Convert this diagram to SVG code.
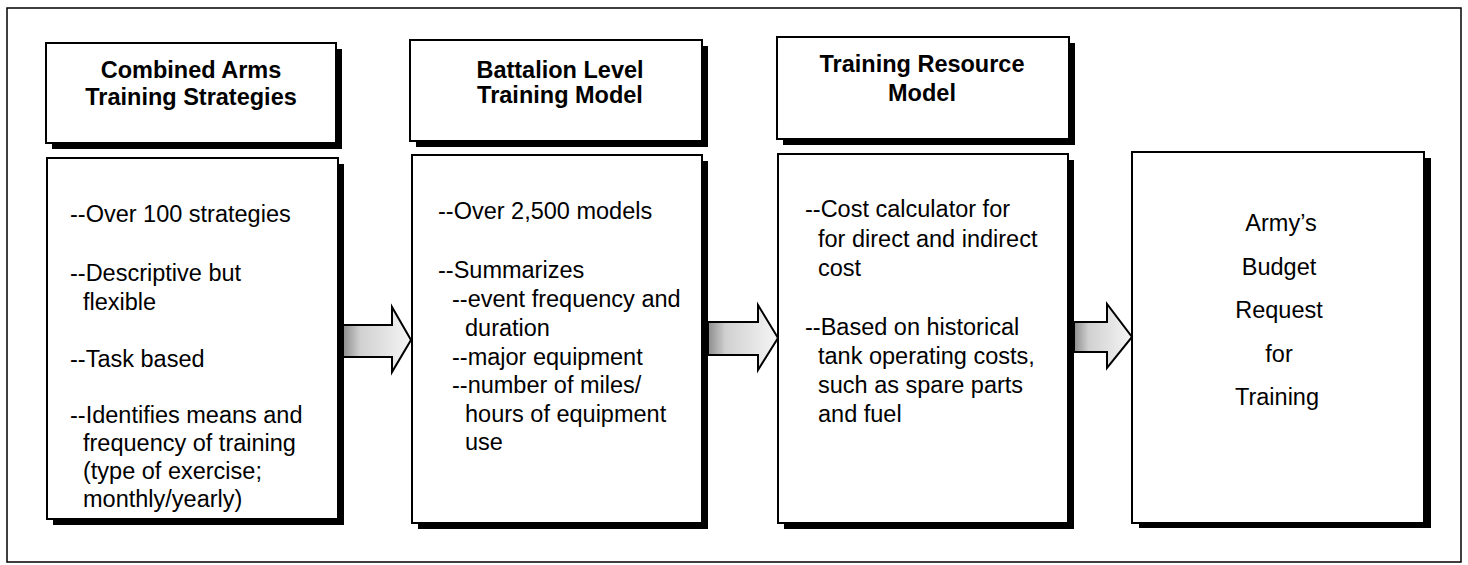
<svg xmlns="http://www.w3.org/2000/svg" width="1468" height="565" viewBox="0 0 1468 565">
<style>
.frame{fill:none;stroke:#000;stroke-width:1.5}
.box{fill:#fff;stroke:#000;stroke-width:2}
.shadow{fill:#000}
.title{font-family:"Liberation Sans",Arial,sans-serif;font-weight:bold;font-size:23.5px;fill:#000;text-anchor:middle}
.body{font-family:"Liberation Sans",Arial,sans-serif;font-size:23.5px;fill:#000}
.center{text-anchor:middle}
.arrow{fill:url(#shade);stroke:#000;stroke-width:2;stroke-linejoin:miter}
</style>
<defs>
<linearGradient id="shade" x1="0" y1="0" x2="1" y2="0">
<stop offset="0" stop-color="#8c8c8c"/>
<stop offset="0.25" stop-color="#d0d0d0"/>
<stop offset="1" stop-color="#f6f6f6"/>
</linearGradient>
</defs>
<rect width="1468" height="565" fill="#fff"/>
<rect class="frame" x="7" y="8" width="1454" height="554"/>

<g id="node-cats">
<rect class="shadow" x="52" y="49" width="290" height="100"/>
<rect class="box" x="46" y="43" width="290" height="100"/>
<text class="title" x="191" y="78">Combined Arms</text>
<text class="title" x="191" y="105">Training Strategies</text>
</g>
<g id="node-cats-body">
<rect class="shadow" x="53" y="164" width="291" height="361"/>
<rect class="box" x="47" y="158" width="291" height="361"/>
<text class="body" x="70" y="222">--Over 100 strategies</text>
<text class="body" x="70" y="281">--Descriptive but</text>
<text class="body" x="83" y="310">flexible</text>
<text class="body" x="70" y="367">--Task based</text>
<text class="body" x="70" y="423">--Identifies means and</text>
<text class="body" x="83" y="451">frequency of training</text>
<text class="body" x="83" y="479">(type of exercise;</text>
<text class="body" x="83" y="507">monthly/yearly)</text>
</g>

<g id="node-bltm">
<rect class="shadow" x="416" y="46" width="292" height="101"/>
<rect class="box" x="410" y="40" width="292" height="101"/>
<text class="title" x="560" y="78">Battalion Level</text>
<text class="title" x="560" y="103">Training Model</text>
</g>
<g id="node-bltm-body">
<rect class="shadow" x="418" y="161" width="290" height="368"/>
<rect class="box" x="412" y="155" width="290" height="368"/>
<text class="body" x="438" y="219">--Over 2,500 models</text>
<text class="body" x="438" y="278">--Summarizes</text>
<text class="body" x="452" y="307">--event frequency and</text>
<text class="body" x="465" y="336">duration</text>
<text class="body" x="452" y="365">--major equipment</text>
<text class="body" x="452" y="393">--number of miles/</text>
<text class="body" x="465" y="422">hours of equipment</text>
<text class="body" x="465" y="450">use</text>
</g>

<g id="node-trm">
<rect class="shadow" x="783" y="43" width="292" height="102"/>
<rect class="box" x="777" y="37" width="292" height="102"/>
<text class="title" x="922" y="72">Training Resource</text>
<text class="title" x="922" y="101">Model</text>
</g>
<g id="node-trm-body">
<rect class="shadow" x="784" y="160" width="290" height="369"/>
<rect class="box" x="778" y="154" width="290" height="369"/>
<text class="body" x="805" y="217">--Cost calculator for</text>
<text class="body" x="818" y="247">for direct and indirect</text>
<text class="body" x="818" y="276">cost</text>
<text class="body" x="805" y="335">--Based on historical</text>
<text class="body" x="818" y="364">tank operating costs,</text>
<text class="body" x="818" y="393">such as spare parts</text>
<text class="body" x="818" y="422">and fuel</text>
</g>

<g id="node-budget">
<rect class="shadow" x="1139" y="158" width="292" height="370"/>
<rect class="box" x="1132" y="152" width="292" height="371"/>
<text class="body center" x="1281" y="231">Army’s</text>
<text class="body center" x="1279" y="275">Budget</text>
<text class="body center" x="1279" y="318">Request</text>
<text class="body center" x="1279" y="362">for</text>
<text class="body center" x="1277" y="405">Training</text>
</g>

<g id="connectors">
<polygon class="arrow" points="343,325 392,325 392,307 411,340 392,372 392,357 343,357"/>
<polygon class="arrow" points="708,322 758,322 758,305 778,338 758,370 758,355 708,355"/>
<polygon class="arrow" points="1074,322 1107,322 1107,304 1132,337 1107,368 1107,352 1074,352"/>
</g>
</svg>
